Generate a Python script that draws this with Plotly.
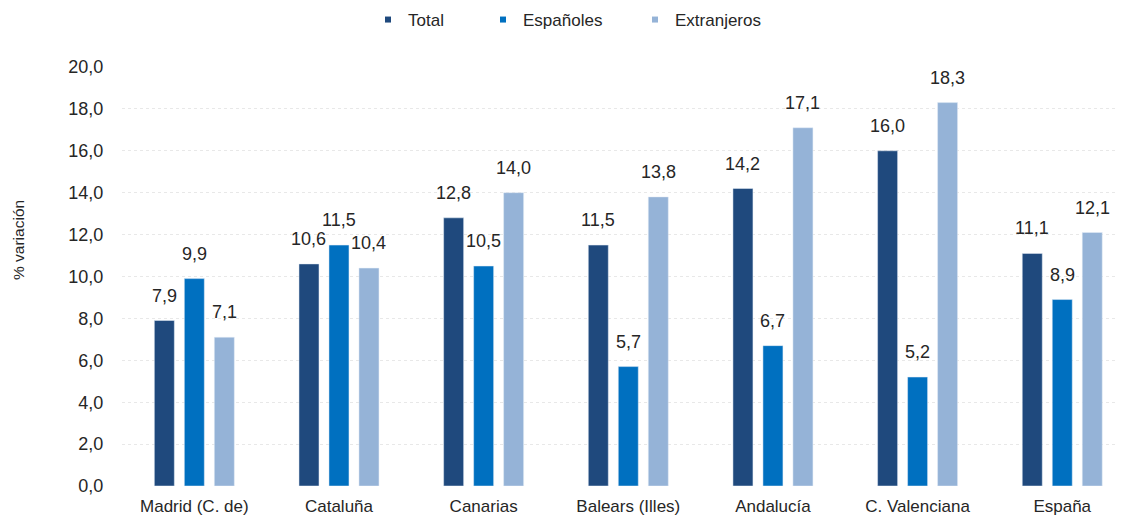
import plotly.graph_objects as go

categories = ["Madrid (C. de)", "Cataluña", "Canarias", "Balears (Illes)", "Andalucía", "C. Valenciana", "España"]
total = [7.9, 10.6, 12.8, 11.5, 14.2, 16.0, 11.1]
espanoles = [9.9, 11.5, 10.5, 5.7, 6.7, 5.2, 8.9]
extranjeros = [7.1, 10.4, 14.0, 13.8, 17.1, 18.3, 12.1]
series_names = ["Total", "Españoles", "Extranjeros"]
colors = ["#1F497D", "#0070C0", "#95B3D7"]
y_ticks = [0, 2, 4, 6, 8, 10, 12, 14, 16, 18, 20]
y_title = "% variación"

FONT = "Liberation Sans, Arial, sans-serif"
TXT = "#262626"

W, H = 1115, 514   # page body has an 8px margin inside the 1123x522 window
L, R, T, B = 114, 0, 59, 36

fig = go.Figure()
series = [total, espanoles, extranjeros]
shifts = [-30, 0, 30]
annotations = []
for name, vals, col, xs in zip(series_names, series, colors, shifts):
    fig.add_trace(go.Bar(
        x=categories, y=vals, name=name, marker_color=col,
        showlegend=False, hoverinfo="x+y+name",
    ))
    for c, v in zip(categories, vals):
        annotations.append(dict(
            x=c, y=v, xref="x", yref="y", text=f"{v:.1f}".replace(".", ","),
            showarrow=False, xshift=xs, yshift=25, yanchor="middle", xanchor="center",
            font=dict(size=18, color=TXT, family=FONT),
        ))

annotations.append(dict(
    x=(10 - L) / (W - L - R), y=(486 - 240) / (486 - 67), xref="paper", yref="paper",
    text=y_title, textangle=-90, showarrow=False, xanchor="center", yanchor="middle",
    font=dict(size=15.5, color=TXT, family=FONT),
))

legend_keys = ["legend", "legend2", "legend3"]
legend_x = [360, 475, 627]
for name, col, lk in zip(series_names, colors, legend_keys):
    fig.add_trace(go.Scatter(
        x=[None], y=[None], mode="markers", name=name,
        marker=dict(symbol="square", size=6, color=col),
        legend=lk, showlegend=True,
    ))

layout_legends = {}
for lk, lx in zip(legend_keys, legend_x):
    layout_legends[lk] = dict(
        orientation="h", yanchor="middle", xanchor="left",
        xref="container", yref="container",
        x=lx / W, y=1 - 12 / H, bgcolor="rgba(0,0,0,0)",
        font=dict(size=17, color=TXT, family=FONT),
    )

fig.update_layout(
    width=W, height=H,
    margin=dict(l=L, r=R, t=T, b=B, autoexpand=False),
    paper_bgcolor="white", plot_bgcolor="white",
    barmode="group", bargap=0.378, bargroupgap=1/3,
    separators=",.",
    font=dict(family=FONT, color=TXT),
    annotations=annotations,
    **layout_legends,
)
fig.update_xaxes(
    range=[-0.5, 6.42], showgrid=False, showline=False, zeroline=False,
    automargin=False,
    tickfont=dict(size=17, color=TXT, family=FONT),
    ticks="outside", ticklen=5, tickcolor="rgba(0,0,0,0)",
)
fig.update_yaxes(
    range=[0, 20], tickvals=y_ticks, tickformat=".1f",
    showgrid=True, gridcolor="#E8E8E8", griddash="dot", gridwidth=1,
    zeroline=False, showline=False, automargin=False,
    tickfont=dict(size=18, color=TXT, family=FONT),
    ticks="outside", ticklen=14, tickcolor="rgba(0,0,0,0)",
)

fig.write_html("out.html")
